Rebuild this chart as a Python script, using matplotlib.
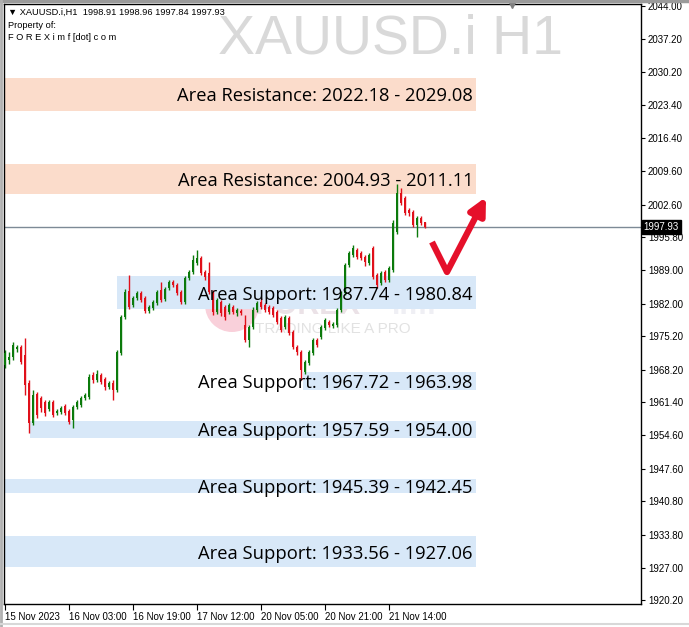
import matplotlib
matplotlib.use('Agg')
import matplotlib.pyplot as plt
from matplotlib.patches import Rectangle, Ellipse
import matplotlib.transforms as mtransforms
import numpy as np

# ---------------- data ----------------
opens = [1969.2,1970.3,1970.9,1972.5,1973.0,1971.3,1965.5,1957.1,1963.2,1962.3,
         1961.5,1960.0,1961.5,1959.2,1959.4,1960.7,1959.6,1957.8,1960.5,1960.9,
         1962.3,1962.5,1967.1,1966.1,1967.1,1966.3,1964.6,1965.5,1964.0,1971.7,
         1979.2,1984.6,1981.7,1983.2,1984.2,1983.2,1980.5,1981.1,1982.1,1984.8,
         1983.0,1985.3,1986.5,1985.9,1984.4,1982.3,1987.3,1988.6,1990.5,1991.5,
         1988.6,1988.4,1984.4,1980.3,1982.3,1981.3,1980.3,1981.3,1980.0,1980.5,
         1977.5,1974.4,1977.1,1980.7,1982.3,1981.7,1981.3,1981.1,1980.3,1979.0,
         1977.1,1979.0,1976.1,1973.0,1971.9,1967.8,1969.6,1971.7,1974.4,1975.0,
         1976.9,1978.2,1977.3,1977.5,1980.7,1984.2,1990.0,1992.1,1993.2,1992.5,
         1991.7,1990.5,1993.6,1988.0,1986.3,1988.6,1986.9,1989.0,1996.9,2005.0,
         2004.0,2001.5,2001.1,1998.4,1999.8,1998.91]
closes = [1971.7,1970.9,1973.4,1973.0,1969.8,1965.0,1957.1,1963.0,1958.8,1960.3,
          1959.2,1961.5,1958.8,1959.6,1960.3,1959.2,1957.3,1960.5,1961.5,1962.3,
          1963.0,1966.7,1966.1,1967.3,1965.7,1964.6,1965.5,1964.0,1971.9,1979.2,
          1984.4,1981.3,1983.2,1984.2,1982.8,1980.5,1981.3,1982.3,1984.4,1982.8,
          1985.0,1986.5,1985.9,1984.2,1982.3,1987.3,1988.6,1991.1,1991.5,1988.4,
          1987.5,1984.4,1980.3,1982.8,1980.0,1979.2,1981.7,1980.3,1980.7,1980.0,
          1974.4,1977.1,1980.7,1982.1,1981.3,1980.7,1980.3,1979.6,1978.2,1976.5,
          1979.2,1975.9,1973.0,1971.9,1968.2,1969.8,1971.9,1974.4,1973.4,1977.1,
          1978.6,1977.5,1977.8,1980.7,1984.2,1990.0,1992.5,1993.6,1991.7,1991.5,
          1990.7,1992.1,1987.5,1985.9,1988.4,1986.9,1989.4,1998.8,2005.0,2003.0,
          2000.9,2000.9,1998.4,1999.8,1998.8,1997.93]
highs = [1972.3,1971.9,1974.0,1973.4,1973.4,1974.8,1966.1,1964.0,1963.6,1962.8,
         1961.9,1961.9,1961.9,1960.0,1960.7,1961.1,1960.0,1960.9,1961.9,1962.8,
         1963.4,1967.3,1967.8,1968.2,1967.5,1966.7,1965.9,1966.1,1972.3,1979.6,
         1985.0,1988.0,1983.6,1984.6,1984.6,1983.6,1981.7,1982.8,1984.8,1986.5,
         1985.5,1986.9,1986.9,1986.3,1984.8,1987.8,1989.0,1992.1,1993.2,1991.9,
         1989.0,1990.7,1984.8,1983.2,1982.8,1981.7,1982.1,1981.7,1981.1,1980.9,
         1979.6,1977.5,1981.3,1982.5,1983.2,1982.1,1981.7,1981.5,1980.7,1979.4,
         1979.6,1979.4,1976.5,1973.4,1972.3,1970.3,1972.3,1974.8,1974.8,1977.5,
         1979.0,1978.6,1978.2,1981.1,1984.6,1990.5,1993.0,1994.2,1993.6,1993.0,
         1992.1,1992.5,1994.0,1988.4,1988.8,1989.0,1989.8,1999.4,2006.9,2006.1,
         2004.4,2001.9,2001.5,2000.3,2000.3,1998.96]
lows = [1968.6,1969.4,1970.3,1971.9,1969.4,1963.0,1955.0,1956.7,1958.2,1959.4,
        1958.6,1959.6,1958.4,1958.8,1959.0,1958.8,1956.9,1956.1,1960.0,1960.5,
        1961.9,1962.1,1965.5,1965.7,1965.3,1964.0,1964.2,1961.9,1963.6,1971.3,
        1978.8,1980.9,1981.3,1982.8,1982.3,1980.0,1980.0,1980.7,1981.7,1982.3,
        1982.5,1984.8,1985.5,1983.8,1981.9,1981.9,1986.9,1988.2,1990.0,1988.0,
        1986.9,1984.0,1979.6,1979.8,1979.4,1978.6,1979.8,1979.8,1979.4,1979.6,
        1974.0,1973.0,1976.7,1980.3,1980.9,1980.3,1979.8,1979.2,1977.8,1976.1,
        1976.7,1975.5,1972.5,1971.3,1966.1,1967.3,1969.2,1971.3,1973.0,1974.6,
        1976.5,1977.1,1976.9,1977.1,1980.3,1983.8,1989.6,1991.7,1991.3,1991.1,
        1989.8,1990.0,1987.1,1985.3,1985.9,1986.5,1986.5,1988.6,1996.5,2002.5,
        2000.5,2000.3,1998.0,1995.9,1998.4,1997.84]

xtick_labels = ["15 Nov 2023", "16 Nov 03:00", "16 Nov 19:00", "17 Nov 12:00",
                "20 Nov 05:00", "20 Nov 21:00", "21 Nov 14:00"]
ytick_values = [2044.00, 2037.20, 2030.20, 2023.40, 2016.40, 2009.60, 2002.60,
                1995.80, 1989.00, 1982.00, 1975.20, 1968.20, 1961.40, 1954.60,
                1947.60, 1940.80, 1933.80, 1927.00, 1920.20]
last_price = 1997.93

zone_kinds = ["Resistance", "Resistance", "Support", "Support", "Support", "Support", "Support"]
zone_a = [2022.18, 2004.93, 1987.74, 1967.72, 1957.59, 1945.39, 1933.56]
zone_b = [2029.08, 2011.11, 1980.84, 1963.98, 1954.00, 1942.45, 1927.06]
zone_start_bar = [0, 0, 28, 74.5, 6.25, 0, 0]

# ---------------- figure ----------------
W, H = 689, 627
fig = plt.figure(figsize=(W / 100, H / 100), dpi=100)
fig.patch.set_facecolor('white')
ax = fig.add_axes([4 / W, (H - 604) / H, 637 / W, 600 / H])
ax.set_xlim(-0.25, 159.0)
ax.set_ylim(1919.42, 2044.42)

def ax_px(px, py):
    return ((px - 4) / 637.0, (604 - py) / 600.0)

# watermark title
fig.text(218 / W, 1 - 40 / H, "XAUUSD.i H1", fontsize=40, color='#d9d9d9',
         family='Liberation Sans', va='center', ha='left', zorder=0)

# logo watermark
cx, cy = ax_px(232, 305)
ax.add_patch(Ellipse((cx, cy), 54 / 637, 54 / 600, transform=ax.transAxes,
                     facecolor='#f9d0da', edgecolor='none', zorder=0.5))
tx, ty = ax_px(255, 306)
ax.text(tx, ty, "FOREX", transform=ax.transAxes, fontsize=22, fontweight='bold',
        color='#ebe2e7', family='Liberation Sans', va='center', ha='left', zorder=0.6)
tx2, _ = ax_px(392, 306)
ax.text(tx2, ty, "imf", transform=ax.transAxes, fontsize=22, fontweight='bold',
        color='#efeff4', family='Liberation Sans', va='center', ha='left', zorder=0.6)
tx3, ty3 = ax_px(255, 329)
ax.text(tx3, ty3, "TRADING LIKE A PRO", transform=ax.transAxes, fontsize=11,
        color='#e2e2e2', family='Liberation Sans', va='center', ha='left', zorder=0.6)

# zones
box_right = 117.75
for kind, a, b, s in zip(zone_kinds, zone_a, zone_b, zone_start_bar):
    lo, hi = min(a, b), max(a, b)
    col = '#fbdccb' if kind == "Resistance" else '#d8e8f8'
    ax.add_patch(Rectangle((s, lo), box_right - s, hi - lo, facecolor=col,
                           edgecolor='none', zorder=1))

# current price line
ax.axhline(last_price, color='#7d8a96', lw=1, zorder=2)

# candles
o = np.array(opens); c = np.array(closes); h = np.array(highs); l = np.array(lows)
x = np.arange(len(o))
cols = np.where(c >= o, '#0b7a0b', '#e0101a')
ax.vlines(x, l, h, colors=cols, lw=1, zorder=3)
body = np.maximum(np.abs(c - o), 0.25)
ax.bar(x, body, bottom=np.minimum(o, c), width=0.72, color=cols, linewidth=0, zorder=4)

# zone labels
for kind, a, b in zip(zone_kinds, zone_a, zone_b):
    ym = (a + b) / 2 - 0.4
    ax.text(117, ym, f"Area {kind}: {a:.2f} - {b:.2f}", fontsize=13.2,
            family='Open Sans', ha='right', va='center', color='black', zorder=5)

# red check arrow
p0 = (106.75, 2045.25 - 242 / 4.8)
p1 = (110.5, 2045.25 - 272 / 4.8)
p2 = (120.25, 2045.25 - 197 / 4.8)
ax.plot([p0[0], p1[0]], [p0[1], p1[1]], color='#e5102a', lw=4.5,
        solid_capstyle='butt', zorder=6)
ax.annotate("", xy=p2, xytext=p1,
            arrowprops=dict(arrowstyle='-|>,head_length=1.0,head_width=0.5',
                            color='#e5102a', lw=4.5, shrinkA=0, shrinkB=0),
            zorder=6)

# axes styling
for sp in ax.spines.values():
    sp.set_color('black'); sp.set_linewidth(1)
ax.yaxis.tick_right()
ax.set_yticks(ytick_values)
ax.set_yticklabels([f"{v:.2f}" for v in ytick_values], family='Liberation Sans', fontsize=7)
ax.tick_params(axis='y', direction='out', length=3, width=0.8, pad=2)
xt = np.arange(len(xtick_labels)) * 16
ax.set_xticks(xt)
ax.set_xticklabels(xtick_labels, family='Liberation Sans', fontsize=7, ha='left')
ax.tick_params(axis='x', direction='out', length=4, width=0.8, pad=2)
ax.set_facecolor('white')

# last price tag
trans = mtransforms.blended_transform_factory(ax.transAxes, ax.transData)
ax.text(1.004, last_price, f"{last_price:.2f}", transform=trans, fontsize=7,
        family='Liberation Sans', color='white', va='center', ha='left',
        bbox=dict(boxstyle='square,pad=0.18', facecolor='black', edgecolor='black'),
        zorder=10, clip_on=False)

# chart shift marker
ax.plot([(512 - 4) / 637], [1.0], marker='v', color='#7f7f7f', markersize=6,
        transform=ax.transAxes, clip_on=False, zorder=10)

# header texts
fig.text(8 / W, 1 - 12 / H, "\u25bc XAUUSD.i,H1  1998.91 1998.96 1997.84 1997.93",
         fontsize=6.7, family=['Liberation Sans', 'DejaVu Sans'], va='center', ha='left')
fig.text(8 / W, 1 - 25 / H, "Property of:", fontsize=6.7, family='Liberation Sans',
         va='center', ha='left')
fig.text(8 / W, 1 - 37 / H, "F O R E X i m f [dot] c o m", fontsize=6.7,
         family='Liberation Sans', va='center', ha='left')

# window frame
fig.add_artist(plt.Line2D([0, 1], [1 - 1 / H, 1 - 1 / H], color='#9a9a9a', lw=2.5))
fig.add_artist(plt.Line2D([1 / W, 1 / W], [0, 1], color='#b0b0b0', lw=2))
fig.add_artist(plt.Line2D([0, 1], [3 / H, 3 / H], color='#d8d8d8', lw=1.5))

fig.savefig('out.png', dpi=100, facecolor='white')
